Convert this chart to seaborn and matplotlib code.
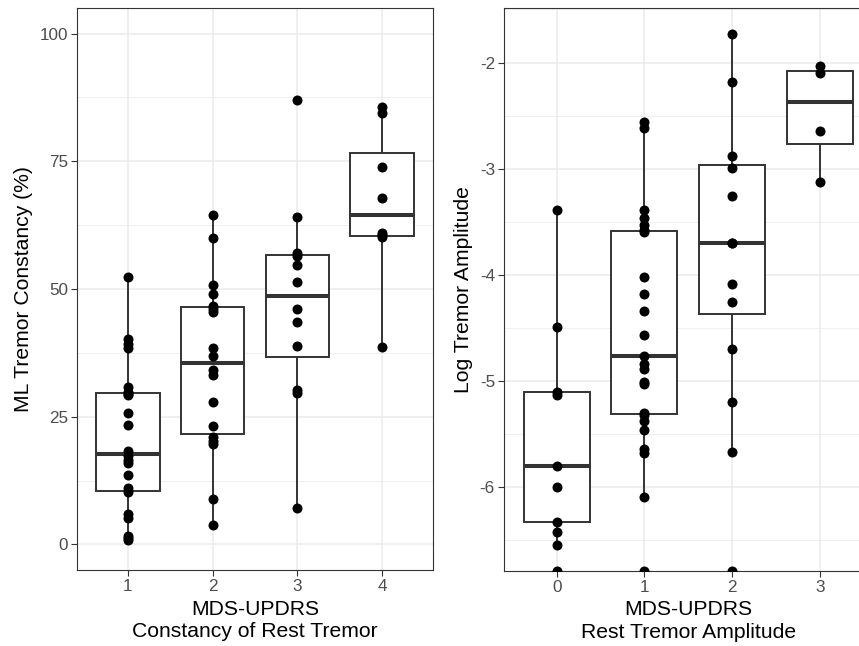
import numpy as np
import pandas as pd
import matplotlib
matplotlib.use("Agg")
import matplotlib.pyplot as plt
from matplotlib.ticker import MultipleLocator
import seaborn as sns

# ---------------- data ----------------
const_levels = ["1", "2", "3", "4"]
const_1 = [0.9, 1.3, 1.7, 5.1, 5.9, 10.2, 11.0, 13.5, 15.9, 16.6, 17.3, 18.3,
           23.3, 25.7, 29.2, 29.4, 29.8, 30.8, 38.4, 39.3, 40.2, 52.4]
const_2 = [3.9, 8.8, 19.6, 20.3, 21.1, 23.1, 27.9, 33.2, 34.2, 36.8, 38.4,
           45.5, 46.0, 46.6, 49.1, 50.7, 59.9, 64.5]
const_3 = [7.2, 29.7, 30.3, 38.9, 43.6, 46.0, 51.4, 54.6, 56.5, 57.1, 64.1, 87.0]
const_4 = [38.6, 60.2, 60.5, 60.9, 67.9, 73.9, 84.5, 85.6]

amp_levels = ["0", "1", "2", "3"]
# -inf = zero amplitude (log of 0), drawn at the panel floor like ggplot does
amp_0 = [-6.55, -6.43, -6.33, -6.00, -5.80, -5.13, -5.11, -4.49, -3.39, -np.inf]
amp_1 = [-6.10, -5.68, -5.64, -5.46, -5.38, -5.32, -5.30, -5.03, -5.01, -4.89,
         -4.84, -4.77, -4.57, -4.34, -4.18, -4.02, -3.60, -3.58, -3.53, -3.47,
         -3.39, -2.615, -2.565, -np.inf]
amp_2 = [-5.67, -5.20, -4.70, -4.26, -4.09, -3.70, -3.70, -3.26, -2.99, -2.88,
         -2.18, -1.73, -np.inf]
amp_3 = [-3.13, -2.65, -2.10, -2.03]

const_yticks = [0, 25, 50, 75, 100]
amp_yticks = [-6, -5, -4, -3, -2]

left_ylabel = "ML Tremor Constancy (%)"
left_xlabel = "MDS-UPDRS\nConstancy of Rest Tremor"
right_ylabel = "Log Tremor Amplitude"
right_xlabel = "MDS-UPDRS\nRest Tremor Amplitude"


def long_df(levels, groups):
    rows = []
    for lev, vals in zip(levels, groups):
        for v in vals:
            rows.append({"level": lev, "value": v})
    return pd.DataFrame(rows)


df_c = long_df(const_levels, [const_1, const_2, const_3, const_4])
df_a = long_df(amp_levels, [amp_0, amp_1, amp_2, amp_3])

# ---------------- style ----------------
plt.rcParams["font.family"] = ["Liberation Sans", "DejaVu Sans"]
plt.rcParams["axes.unicode_minus"] = False

fig = plt.figure(figsize=(8.59, 6.46), dpi=100)
W, H = 859, 646
ax1 = fig.add_axes([77 / W, 1 - 570 / H, 356 / W, 562 / H])
ax2 = fig.add_axes([504 / W, 1 - 570.7 / H, 368.5 / W, 562.4 / H])

grid_c = "#EBEBEB"
line_c = "#333333"


def draw(ax, df, levels, ylim, yticks, minor, ylabel, xlabel):
    finite = df[np.isfinite(df["value"])]
    pts = df.copy()
    pts["value"] = pts["value"].where(np.isfinite(pts["value"]), ylim[0])
    sns.boxplot(data=finite, x="level", y="value", order=levels, ax=ax,
                color="white", linecolor=line_c, linewidth=1.4, width=0.75,
                showfliers=False, showcaps=False,
                medianprops={"linewidth": 2.9, "color": line_c},
                zorder=2)
    sns.stripplot(data=pts, x="level", y="value", order=levels, ax=ax,
                  jitter=False, color="black", size=7.2, linewidth=0,
                  zorder=3)
    ax.set_xlim(-0.6, len(levels) - 1 + 0.6)
    ax.set_ylim(*ylim)
    ax.set_yticks(yticks)
    ax.set_yticklabels([str(t) for t in yticks])
    ax.yaxis.set_minor_locator(MultipleLocator(minor))
    ax.set_axisbelow(True)
    ax.grid(which="major", color=grid_c, linewidth=1.1)
    ax.grid(which="minor", axis="y", color=grid_c, linewidth=0.55)
    ax.tick_params(which="minor", length=0)
    ax.tick_params(which="major", length=4, width=0.8, color=line_c,
                   labelsize=12.3, labelcolor="#4D4D4D", pad=2.5)
    for s in ax.spines.values():
        s.set_color(line_c)
        s.set_linewidth(0.8)
    ax.set_ylabel(ylabel, fontsize=15.2, color="black", labelpad=5)
    ax.set_xlabel(xlabel, fontsize=15.2, color="black", labelpad=4,
                  linespacing=1.22)


draw(ax1, df_c, const_levels, (-5, 105), const_yticks, 12.5,
     left_ylabel, left_xlabel)

fin = np.array([v for g in (amp_0, amp_1, amp_2, amp_3) for v in g if np.isfinite(v)])
rng = fin.max() - fin.min()
amp_lim = (fin.min() - 0.05 * rng, fin.max() + 0.05 * rng)
draw(ax2, df_a, amp_levels, amp_lim, amp_yticks, 0.5,
     right_ylabel, right_xlabel)

fig.savefig("out.png", dpi=100)
